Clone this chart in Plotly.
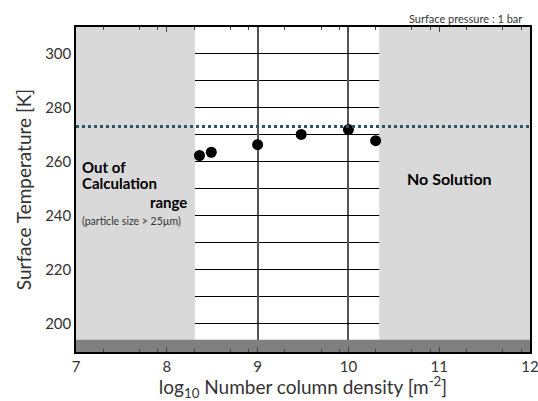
import plotly.graph_objects as go

# Data
x_vals = [8.36, 8.49, 9.0, 9.48, 10.0, 10.30]
t_vals = [262.4, 263.6, 266.4, 270.2, 272.0, 267.9]
freezing_T = 273.15
x_ticks = [7, 8, 9, 10, 11, 12]
x_minor = [d + f for d in range(7, 12) for f in (0.301, 0.699, 0.903)]
y_ticks = [200, 220, 240, 260, 280, 300]
valid_range = [8.31, 10.34]
x_range = [7, 12]
y_range = [189.6, 310]
band_top = 194.1

FONT = "Lato"

fig = go.Figure()
fig.add_trace(go.Scatter(
    x=x_vals, y=t_vals, mode="markers",
    marker=dict(color="black", size=11), showlegend=False, cliponaxis=False))

shapes = [
    dict(type="rect", xref="x", yref="y", x0=x_range[0], x1=valid_range[0],
         y0=y_range[0], y1=y_range[1], fillcolor="#d9d9d9", line=dict(width=0), layer="between"),
    dict(type="rect", xref="x", yref="y", x0=valid_range[1], x1=x_range[1],
         y0=y_range[0], y1=y_range[1], fillcolor="#d9d9d9", line=dict(width=0), layer="between"),
    dict(type="rect", xref="x", yref="y", x0=x_range[0], x1=x_range[1],
         y0=y_range[0], y1=band_top, fillcolor="#808080", line=dict(width=0), layer="between"),
    dict(type="line", xref="x", yref="y", x0=x_range[0], x1=x_range[1],
         y0=freezing_T, y1=freezing_T, line=dict(color="#2c5560", width=3, dash="dot"), layer="above"),
]

annotations = [
    dict(x=7.04, y=258.0, xref="x", yref="y", text="<b>Out of</b>", showarrow=False,
         xanchor="left", font=dict(family=FONT, size=15, color="black")),
    dict(x=7.04, y=252.1, xref="x", yref="y", text="<b>Calculation</b>", showarrow=False,
         xanchor="left", font=dict(family=FONT, size=15, color="black")),
    dict(x=8.24, y=245.2, xref="x", yref="y", text="<b>range</b>", showarrow=False,
         xanchor="right", font=dict(family=FONT, size=15, color="black")),
    dict(x=7.04, y=238.1, xref="x", yref="y", text="(particle size > 25µm)", showarrow=False,
         xanchor="left", font=dict(family=FONT, size=10.5, color="#333")),
    dict(x=11.11, y=253.9, xref="x", yref="y", text="<b>No Solution</b>", showarrow=False,
         xanchor="center", font=dict(family=FONT, size=16, color="black")),
    dict(x=1, y=1.0, xref="paper", yref="paper", text="Surface pressure : 1 bar", showarrow=False,
         xanchor="right", yanchor="bottom", xshift=-6, yshift=0,
         font=dict(family=FONT, size=11, color="#333")),
]

fig.update_layout(
    width=538, height=401,
    margin=dict(l=76, r=8, t=27, b=49, autoexpand=False),
    paper_bgcolor="white", plot_bgcolor="white",
    font=dict(family=FONT, color="#333"),
    shapes=shapes, annotations=annotations,
    xaxis=dict(
        range=x_range, tickmode="array", tickvals=x_ticks, automargin=False,
        ticklabeloverflow="allow",
        ticks="inside", ticklen=5, tickcolor="#444", tickwidth=1,
        showline=True, linecolor="black", linewidth=1.5, mirror="ticks",
        showgrid=True, gridcolor="#555", gridwidth=1.5, zeroline=False,
        tickfont=dict(family=FONT, size=15, color="#333"),
        minor=dict(tickmode="array", tickvals=x_minor, ticks="inside", ticklen=3,
                   tickcolor="#444", showgrid=False),
        title=dict(text="log<sub>10</sub> Number column density [m<sup>-2</sup>]",
                   font=dict(family=FONT, size=19, color="#333"), standoff=4),
    ),
    yaxis=dict(
        range=y_range, tickmode="array", tickvals=y_ticks, ticks="", automargin=False,
        showline=True, linecolor="black", linewidth=1.5, mirror=True,
        showgrid=True, gridcolor="black", gridwidth=1, zeroline=False,
        tickfont=dict(family=FONT, size=15, color="#333"),
        minor=dict(dtick=10, tick0=200, showgrid=True, gridcolor="black", gridwidth=1, ticks=""),
        title=dict(text="Surface Temperature [K]",
                   font=dict(family=FONT, size=19, color="#333"), standoff=8),
    ),
)

fig.write_html("out.html",
               config={"displayModeBar": False},
               post_script="document.body.style.margin='0';document.body.style.overflow='hidden';")
